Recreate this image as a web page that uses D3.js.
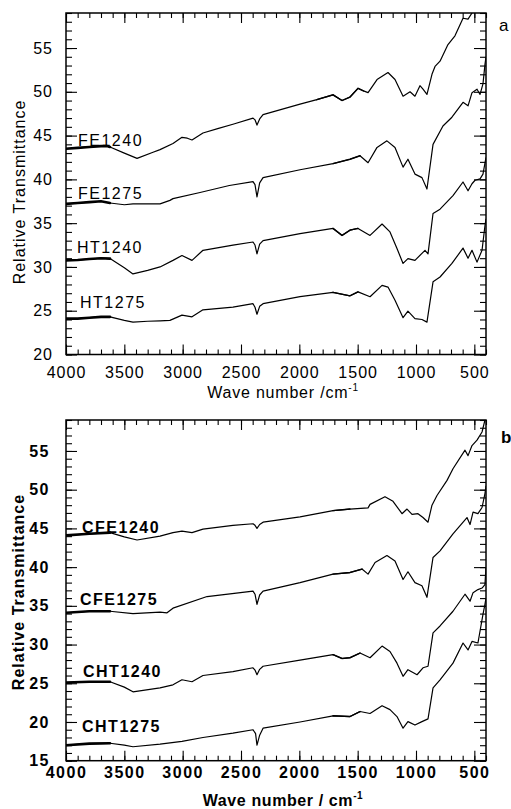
<!DOCTYPE html>
<html>
<head>
<meta charset="utf-8">
<script src="https://cdn.jsdelivr.net/npm/d3@7"></script>
<style>
  body { margin: 0; background: #fff; }
  svg { display: block; }
</style>
</head>
<body>
<div id="chart"></div>
<script>
// spectra: [wave number, relative transmittance]
const FE1240 = [[4000,43.5],[3900,43.6],[3800,43.7],[3700,43.8],[3649,43.8],[3623,43.7],[3500,43.0],[3391,42.4],[3254,43.1],[3194,43.4],[3083,44.1],[3006,44.8],[2960,44.7],[2920,44.5],[2826,45.3],[2700,45.8],[2569,46.3],[2397,47.0],[2380,46.8],[2363,46.2],[2340,46.9],[2311,47.4],[1994,48.6],[1850,49.1],[1711,49.65],[1634,49.0],[1566,49.4],[1497,50.4],[1450,50.1],[1411,49.9],[1334,51.4],[1240,52.2],[1180,51.4],[1111,49.5],[1051,50.0],[1009,49.5],[966,50.7],[940,50.3],[906,49.7],[863,52.0],[837,52.9],[794,53.5],[726,55.4],[666,56.4],[597,58.4],[554,58.3],[520,59.0],[480,60.5],[400,62]];
const FE1275 = [[4000,37.2],[3900,37.3],[3800,37.4],[3700,37.5],[3623,37.3],[3500,37.1],[3426,37.2],[3300,37.2],[3194,37.2],[3109,37.6],[3083,37.8],[2851,38.5],[2600,39.3],[2397,39.75],[2380,39.4],[2363,38.0],[2340,39.6],[2311,40.2],[1994,41.1],[1711,41.8],[1566,42.3],[1480,42.7],[1411,41.9],[1334,43.65],[1249,44.4],[1180,43.65],[1111,41.4],[1069,42.3],[1009,40.6],[949,40.2],[906,38.9],[854,44.0],[769,46.1],[692,47.1],[597,48.8],[554,48.4],[520,49.9],[477,50.3],[451,49.7],[426,50.9],[409,53.1],[400,54]];
const HT1240 = [[4000,30.75],[3900,30.8],[3800,30.9],[3700,31.0],[3623,30.95],[3500,29.9],[3426,29.2],[3300,29.6],[3194,30.0],[3083,30.75],[3006,31.3],[2920,30.75],[2826,31.9],[2569,32.5],[2397,32.85],[2380,32.5],[2363,31.5],[2340,32.6],[2311,33.0],[1994,33.8],[1711,34.4],[1634,33.6],[1566,34.2],[1497,34.4],[1394,33.6],[1291,34.9],[1223,34.0],[1163,32.1],[1111,30.4],[1069,30.95],[1009,30.75],[923,31.9],[897,31.5],[854,36.1],[794,36.6],[683,38.15],[597,39.7],[554,38.7],[520,39.5],[494,39.9],[451,40.05],[426,40.6],[400,42.5]];
const HT1275 = [[4000,24.1],[3900,24.1],[3800,24.2],[3700,24.3],[3623,24.3],[3500,23.9],[3426,23.7],[3300,23.8],[3194,23.85],[3109,23.9],[3006,24.5],[2920,24.3],[2826,25.1],[2569,25.4],[2397,25.8],[2380,25.4],[2363,24.6],[2340,25.5],[2311,25.8],[1994,26.6],[1711,27.1],[1566,26.7],[1497,27.15],[1394,26.6],[1291,27.9],[1240,27.7],[1180,26.2],[1111,24.2],[1069,24.95],[1009,24.1],[949,24.0],[906,23.7],[854,28.3],[794,28.85],[692,30.4],[597,32.15],[554,31.0],[520,31.9],[477,30.55],[434,31.9],[409,34.7],[400,35.5]];

const CFE1240 = [[4000,44.1],[3800,44.3],[3623,44.45],[3500,43.9],[3391,43.5],[3194,44.0],[3083,44.45],[3006,44.65],[2920,44.45],[2826,44.9],[2569,45.4],[2397,45.6],[2380,45.4],[2363,45.0],[2340,45.5],[2311,45.8],[1994,46.5],[1711,47.3],[1566,47.5],[1411,47.65],[1394,48.1],[1266,49.1],[1197,48.5],[1120,46.9],[1077,47.5],[1034,46.8],[983,46.9],[940,46.4],[897,45.8],[863,48.0],[820,49.25],[734,51.2],[683,52.7],[580,55.1],[554,54.4],[520,55.7],[477,56.4],[434,57.45],[409,59],[400,59.5]];
const CFE1275 = [[4000,34.1],[3800,34.3],[3623,34.3],[3426,34.0],[3194,34.2],[3134,34.1],[3083,34.7],[2791,36.2],[2397,36.9],[2380,36.5],[2363,35.2],[2340,36.4],[2311,36.9],[1994,38.0],[1711,39.1],[1566,39.3],[1463,39.75],[1411,39.1],[1351,40.6],[1249,41.5],[1180,40.8],[1111,38.4],[1069,39.4],[1009,38.0],[949,37.6],[906,36.1],[854,41.25],[794,42.1],[683,44.3],[563,46.4],[537,45.5],[511,47.1],[469,46.9],[434,47.7],[409,49.5],[400,50.5]];
const CHT1240 = [[4000,25.1],[3800,25.2],[3623,25.2],[3500,24.5],[3426,23.9],[3194,24.4],[3083,24.8],[3006,25.45],[2920,25.2],[2826,26.0],[2569,26.5],[2397,27.0],[2380,26.7],[2363,26.1],[2340,26.8],[2311,27.2],[1994,28.0],[1711,28.7],[1634,28.2],[1566,28.3],[1480,28.9],[1394,28.3],[1291,29.8],[1223,29.1],[1163,27.6],[1111,25.9],[1069,26.75],[991,26.1],[940,27.0],[897,27.2],[854,31.5],[794,32.4],[683,34.3],[580,36.5],[537,35.6],[511,36.7],[469,37.1],[434,37.3],[409,37.75],[400,40]];
const CHT1275 = [[4000,17.0],[3800,17.2],[3623,17.25],[3500,17.0],[3426,16.8],[3194,17.15],[3006,17.5],[2826,18.0],[2569,18.55],[2397,19.0],[2375,18.5],[2363,17.0],[2340,18.3],[2311,19.2],[1994,20.0],[1711,20.8],[1566,20.7],[1480,21.35],[1394,21.1],[1291,22.1],[1223,21.6],[1163,20.7],[1111,19.2],[1069,20.05],[1009,19.6],[949,20.05],[897,20.4],[854,24.4],[794,25.45],[683,27.6],[597,30.2],[554,29.3],[520,30.4],[469,30.2],[426,33.9],[409,35.2],[400,36]];

const xMajor = [4000, 3500, 3000, 2500, 2000, 1500, 1000, 500];
const xMinor = d3.range(4000, 399, -100);
const yMajorA = [20, 25, 30, 35, 40, 45, 50, 55];
const yMajorB = [15, 20, 25, 30, 35, 40, 45, 50, 55];

const width = 511, height = 809;
const left = 66, right = 486;

const svg = d3.select("#chart")
    .append("svg")
    .attr("width", width)
    .attr("height", height);

// noisy stretches drawn with a heavier pen
const noisy = [{from: 4000, to: 3560, w: 2.6}, {from: 1900, to: 1450, w: 1.4}];

function drawPanel(p) {
    const g = svg.append("g");
    const font = p.bold ? "bold" : "normal";

    const x = d3.scaleLinear().domain([4000, 400]).range([left, right]);
    const y = d3.scaleLinear().domain(p.yDomain).range([p.bottom, p.top]);

    const clipId = "clip-" + p.name;
    svg.append("clipPath").attr("id", clipId)
        .append("rect")
        .attr("x", left).attr("y", p.top)
        .attr("width", right - left).attr("height", p.bottom - p.top);

    const yMinor = d3.range(p.yDomain[0], Math.floor(p.yDomain[1]) + 1, 1);

    // minor ticks on all four sides
    g.append("g").attr("transform", `translate(0,${p.bottom})`)
        .call(d3.axisBottom(x).tickValues(xMinor).tickSize(-5).tickSizeOuter(0).tickFormat(""));
    g.append("g").attr("transform", `translate(0,${p.top})`)
        .call(d3.axisTop(x).tickValues(xMinor).tickSize(-5).tickSizeOuter(0).tickFormat(""));
    g.append("g").attr("transform", `translate(${left},0)`)
        .call(d3.axisLeft(y).tickValues(yMinor).tickSize(-6).tickSizeOuter(0).tickFormat(""));
    g.append("g").attr("transform", `translate(${right},0)`)
        .call(d3.axisRight(y).tickValues(yMinor).tickSize(-6).tickSizeOuter(0).tickFormat(""));

    // major ticks + labels
    g.append("g").attr("class", "x-axis").attr("transform", `translate(0,${p.bottom})`)
        .call(d3.axisBottom(x).tickValues(xMajor).tickSize(-10).tickSizeOuter(0)
            .tickPadding(p.xPad).tickFormat(d3.format("d")));
    g.append("g").attr("transform", `translate(0,${p.top})`)
        .call(d3.axisTop(x).tickValues(xMajor).tickSize(-10).tickSizeOuter(0).tickFormat(""));
    g.append("g").attr("class", "y-axis").attr("transform", `translate(${left},0)`)
        .call(d3.axisLeft(y).tickValues(p.yMajor).tickSize(-11).tickSizeOuter(0)
            .tickPadding(p.yPad).tickFormat(d3.format("d")));
    g.append("g").attr("transform", `translate(${right},0)`)
        .call(d3.axisRight(y).tickValues(p.yMajor).tickSize(-12).tickSizeOuter(0).tickFormat(""));

    g.selectAll(".tick line").attr("stroke", "#000").attr("stroke-width", 1.1);
    g.selectAll(".domain").remove();
    g.selectAll(".tick text")
        .attr("fill", "#000")
        .attr("font-family", "Liberation Sans, Arial, sans-serif")
        .attr("font-size", 16)
        .attr("font-weight", font)
        .attr("letter-spacing", p.bold ? 1.5 : 1);

    // frame
    g.append("rect")
        .attr("x", left).attr("y", p.top)
        .attr("width", right - left).attr("height", p.bottom - p.top)
        .attr("fill", "none").attr("stroke", "#000").attr("stroke-width", 1.5);

    const line = d3.line().x(d => x(d[0])).y(d => y(d[1]));
    const plot = g.append("g").attr("clip-path", `url(#${clipId})`);

    p.series.forEach(s => {
        plot.append("path")
            .datum(s.data)
            .attr("d", line)
            .attr("fill", "none")
            .attr("stroke", "#000")
            .attr("stroke-width", 1.2)
            .attr("stroke-linejoin", "round");
        noisy.forEach(n => {
            plot.append("path")
                .datum(s.data.filter(d => d[0] <= n.from && d[0] >= n.to))
                .attr("d", line)
                .attr("fill", "none")
                .attr("stroke", "#000")
                .attr("stroke-linecap", "round")
                .attr("stroke-width", n.w);
        });
        g.append("text")
            .attr("x", s.lx).attr("y", s.ly)
            .attr("font-family", "Liberation Sans, Arial, sans-serif")
            .attr("font-size", 16)
            .attr("font-weight", font)
            .attr("letter-spacing", 1.5)
            .text(s.name);
    });

    // axis titles
    g.append("text")
        .attr("transform", `translate(${p.yTitle[0]},${p.yTitle[1]}) rotate(-90)`)
        .attr("text-anchor", "middle")
        .attr("font-family", "Liberation Sans, Arial, sans-serif")
        .attr("font-size", 16)
        .attr("font-weight", font)
        .attr("letter-spacing", 1)
        .text("Relative Transmittance");

    const xt = g.append("text")
        .attr("x", p.xTitle[0]).attr("y", p.xTitle[1])
        .attr("text-anchor", "middle")
        .attr("font-family", "Liberation Sans, Arial, sans-serif")
        .attr("font-size", 16)
        .attr("font-weight", font)
        .attr("letter-spacing", p.bold ? 0.6 : 0.8);
    xt.append("tspan").text(p.xLabel);
    xt.append("tspan").attr("dy", -7).attr("font-size", 10).text("-1");

    g.append("text")
        .attr("x", p.letter[0]).attr("y", p.letter[1])
        .attr("font-family", "Liberation Sans, Arial, sans-serif")
        .attr("font-size", 17)
        .attr("font-weight", font)
        .text(p.name);
}

drawPanel({
    name: "a", bold: false,
    top: 13, bottom: 354.5, yDomain: [20, 59], yMajor: yMajorA,
    xPad: 12.6, yPad: 13,
    yTitle: [25, 192], xTitle: [283, 398], xLabel: "Wave number /cm",
    letter: [499, 31],
    series: [
        {name: "FE1240", data: FE1240, lx: 78, ly: 146},
        {name: "FE1275", data: FE1275, lx: 78, ly: 199},
        {name: "HT1240", data: HT1240, lx: 77, ly: 253},
        {name: "HT1275", data: HT1275, lx: 80, ly: 308}
    ]
});

drawPanel({
    name: "b", bold: true,
    top: 420, bottom: 760.7, yDomain: [15, 59], yMajor: yMajorB,
    xPad: 6.2, yPad: 16,
    yTitle: [24, 592], xTitle: [283, 806], xLabel: "Wave number / cm",
    letter: [501, 443],
    series: [
        {name: "CFE1240", data: CFE1240, lx: 82, ly: 533},
        {name: "CFE1275", data: CFE1275, lx: 80, ly: 605},
        {name: "CHT1240", data: CHT1240, lx: 83, ly: 677},
        {name: "CHT1275", data: CHT1275, lx: 82, ly: 732}
    ]
});
</script>
</body>
</html>
